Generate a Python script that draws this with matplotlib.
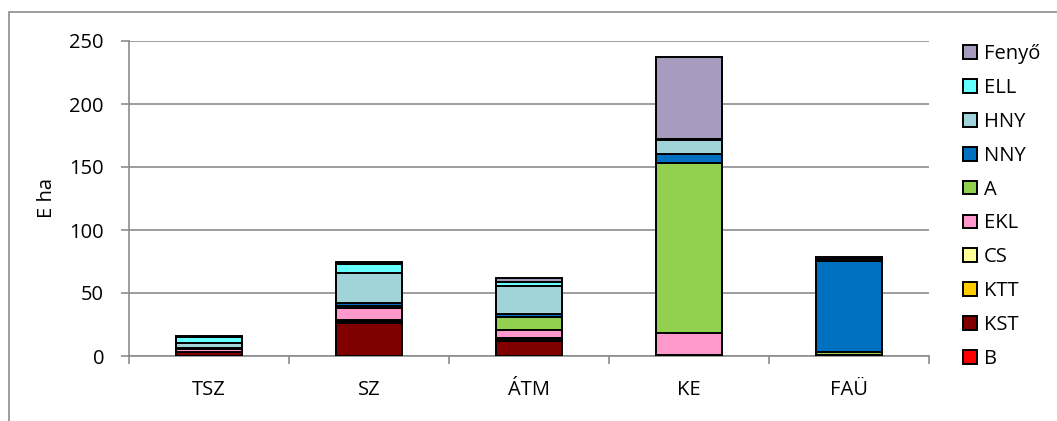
import matplotlib.pyplot as plt
import matplotlib.patches as mpatches
import numpy as np

plt.rcParams['font.family'] = ['Open Sans', 'DejaVu Sans']

# kategóriák és sorozatok (E ha)
categories = ['TSZ', 'SZ', 'ÁTM', 'KE', 'FAÜ']
series_names = ['B', 'KST', 'KTT', 'CS', 'EKL', 'A', 'NNY', 'HNY', 'ELL', 'Fenyő']
B = [0, 0, 0, 0, 0]
KST = [3.0, 26.0, 12.0, 0.5, 0]
KTT = [0.3, 1.5, 1.0, 0, 0]
CS = [0.2, 1.0, 1.0, 0.5, 0.5]
EKL = [2.0, 9.3, 6.6, 17.5, 0]
A = [0.5, 1.5, 10.0, 134.5, 3.0]
NNY = [0.3, 2.4, 2.6, 7.0, 72.0]
HNY = [4.0, 24.3, 22.2, 11.5, 1.5]
ELL = [4.5, 6.9, 3.5, 1.0, 1.0]
Fenyo = [0.7, 1.4, 2.7, 65.0, 0.8]
values = [B, KST, KTT, CS, EKL, A, NNY, HNY, ELL, Fenyo]
colors = ['#FF0000', '#800000', '#FFCC00', '#FFFF99', '#FF99CC',
          '#92D050', '#0070C0', '#A0D4D8', '#66FFFF', '#A79BC0']

fs = 14.5

fig = plt.figure(figsize=(10.57, 4.21), dpi=100)
ax = fig.add_axes([129 / 1057, 1 - 356 / 421, 800 / 1057, 315 / 421])

x = np.arange(len(categories))
bottom = np.zeros(len(categories))
handles = []
for name, vals, c in zip(series_names, values, colors):
    ax.bar(x, vals, 0.41, bottom=bottom, color=c, edgecolor='black',
           linewidth=1.4, zorder=3)
    bottom += np.array(vals)
    handles.append(mpatches.Patch(facecolor=c, edgecolor='black', linewidth=1.4, label=name))

ax.set_xlim(-0.5, 4.5)
ax.set_ylim(0, 250)
ax.set_yticks([0, 50, 100, 150, 200, 250])
ax.set_xticks(x)
ax.set_xticklabels(categories, fontsize=fs)
ax.set_xticks(np.arange(-0.5, 5, 1), minor=True)
ax.tick_params(axis='x', which='major', length=0, pad=17)
ax.tick_params(axis='x', which='minor', length=6, color='#8c8c8c', width=1.2)
ax.tick_params(axis='y', length=6, color='#8c8c8c', width=1.2, labelsize=fs, pad=12)
ax.yaxis.grid(True, color='#8c8c8c', linewidth=1.2, zorder=0)
ax.set_axisbelow(True)
for s in ['top', 'right']:
    ax.spines[s].set_visible(False)
for s in ['left', 'bottom']:
    ax.spines[s].set_color('#8c8c8c')
    ax.spines[s].set_linewidth(1.2)
ax.set_ylabel('E ha', fontsize=fs, labelpad=9)

ax.legend(handles=handles[::-1], loc='upper left', bbox_to_anchor=(963 / 1057, 1 - 44 / 421),
          bbox_transform=fig.transFigure, frameon=False, fontsize=fs,
          handlelength=0.68, handleheight=0.68, handletextpad=0.35, labelspacing=0.69,
          borderpad=0, borderaxespad=0)

# külső keret
fig.patches.append(mpatches.Rectangle((8.5 / 1057, -0.1), 1.2, 1 - 12 / 421 + 0.1,
                                      transform=fig.transFigure, fill=False,
                                      edgecolor='#8c8c8c', linewidth=1.2))

fig.savefig('out.png', dpi=100)
